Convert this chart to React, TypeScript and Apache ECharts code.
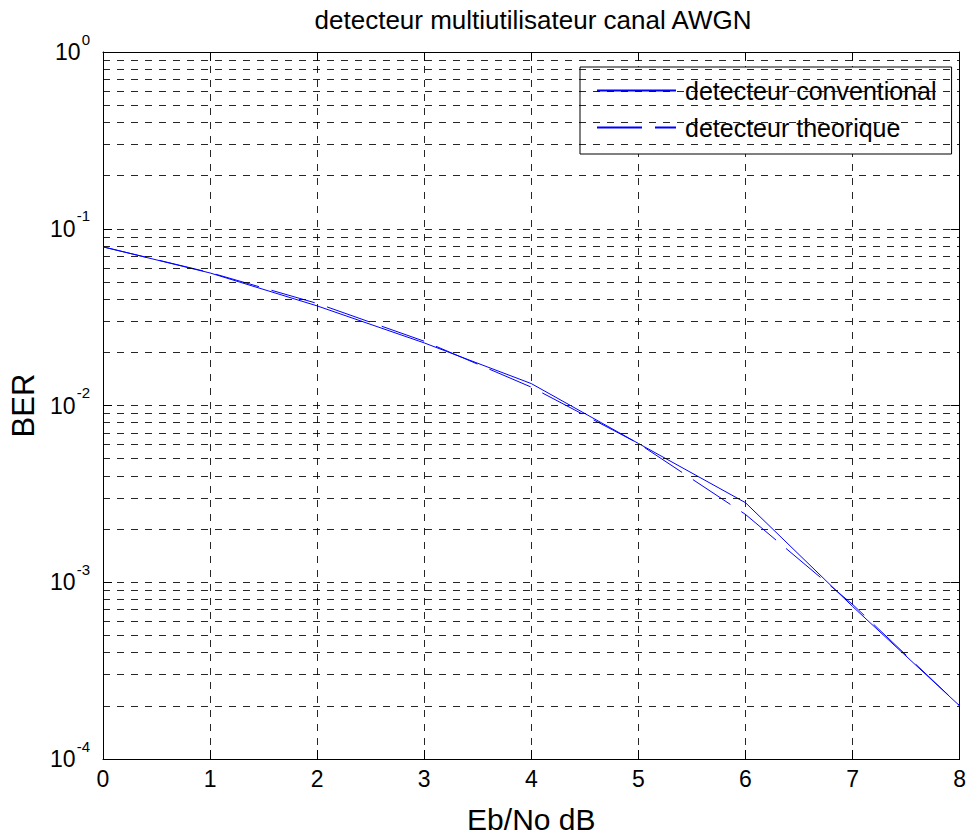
import React, { useEffect, useRef } from "react";
import * as echarts from "echarts";

const xValues = [0, 1, 2, 3, 4, 5, 6, 7, 8];
const conventional = [0.079, 0.0562, 0.0366, 0.0226, 0.0133, 0.0061, 0.00282, 0.00073, 0.0002];
const theorique = [0.079, 0.0565, 0.0378, 0.0231, 0.0127, 0.0061, 0.00242, 0.00075, 0.0002];
const decadeExponents = [-4, -3, -2, -1];
const minorMultipliers = [2, 3, 4, 5, 6, 7, 8, 9];
const seriesNames = ["detecteur conventional", "detecteur theorique"];
const titleText = "detecteur multiutilisateur canal AWGN";
const xName = "Eb/No dB";
const yName = "BER";

const FONT = "Liberation Sans, Arial, Helvetica, sans-serif";
const GRID_DASH = [7, 7];

export default function App() {
  const ref = useRef<HTMLDivElement>(null);
  useEffect(() => {
    document.body.style.margin = "0";
    if (!ref.current) return;
    const chart = echarts.init(ref.current, undefined, { renderer: "svg" });
    const minorLines: { yAxis: number }[] = [];
    decadeExponents.forEach((e) =>
      minorMultipliers.forEach((m) => minorLines.push({ yAxis: m * Math.pow(10, e) }))
    );
    const gridLineStyle = { color: "#000", width: 1, type: GRID_DASH, opacity: 0.85 };
    chart.setOption({
      animation: false,
      backgroundColor: "#fff",
      textStyle: { fontFamily: FONT },
      title: {
        text: titleText,
        left: 533,
        top: 7,
        textAlign: "center",
        padding: 0,
        textStyle: { fontSize: 26, fontWeight: "normal", color: "#000", fontFamily: FONT },
      },
      legend: {
        data: seriesNames,
        orient: "vertical",
        left: 580,
        top: 67,
        padding: [11, 15, 14, 16],
        itemGap: 12,
        itemWidth: 79,
        itemHeight: 25,
        backgroundColor: "#fff",
        borderColor: "#000",
        borderWidth: 1,
        borderRadius: 0,
        itemStyle: { opacity: 0 },
        textStyle: { fontSize: 25, color: "#000", fontFamily: FONT, padding: [0, 0, 0, 4] },
        selectedMode: false,
      },
      grid: { left: 103, top: 52, right: 8, bottom: 79, containLabel: false },
      xAxis: [
        {
          type: "value",
          min: 0,
          max: 8,
          interval: 1,
          name: xName,
          nameLocation: "middle",
          nameGap: 45,
          nameTextStyle: { fontSize: 30, color: "#000", fontFamily: FONT },
          axisLine: { show: true, onZero: false, lineStyle: { color: "#000", width: 1 } },
          axisTick: { show: true, inside: true, length: 9, lineStyle: { color: "#000" } },
          axisLabel: { fontSize: 23, color: "#000", margin: 8, fontFamily: FONT },
          splitLine: { show: true, lineStyle: gridLineStyle },
        },
        {
          type: "value",
          position: "top",
          min: 0,
          max: 8,
          interval: 1,
          axisLine: { show: true, onZero: false, lineStyle: { color: "#000", width: 1 } },
          axisTick: { show: true, inside: true, length: 9, lineStyle: { color: "#000" } },
          axisLabel: { show: false },
          splitLine: { show: false },
        },
      ],
      yAxis: [
        {
          type: "log",
          logBase: 10,
          min: 0.0001,
          max: 1,
          name: yName,
          nameLocation: "middle",
          nameGap: 56,
          nameRotate: 90,
          nameTextStyle: { fontSize: 31, color: "#000", fontFamily: FONT },
          axisLine: { show: true, onZero: false, lineStyle: { color: "#000", width: 1 } },
          axisTick: { show: true, inside: true, length: 9, lineStyle: { color: "#000" } },
          axisLabel: {
            margin: 13,
            color: "#000",
            fontFamily: FONT,
            formatter: (v: number) => `{b|10}{s|${Math.round(Math.log10(v))}}`,
            rich: {
              b: { fontSize: 23, color: "#000", fontFamily: FONT },
              s: { fontSize: 15, color: "#000", fontFamily: FONT, padding: [0, 0, 26, 1] },
            },
          },
          splitLine: { show: true, lineStyle: gridLineStyle },
        },
        {
          type: "log",
          logBase: 10,
          min: 0.0001,
          max: 1,
          position: "right",
          axisLine: { show: true, onZero: false, lineStyle: { color: "#000", width: 1 } },
          axisTick: { show: true, inside: true, length: 9, lineStyle: { color: "#000" } },
          axisLabel: { show: false },
          splitLine: { show: false },
        },
      ],
      series: [
        {
          name: "minorGrid",
          type: "line",
          data: [],
          z: 1,
          silent: true,
          markLine: {
            silent: true,
            precision: 10,
            symbol: ["none", "none"],
            label: { show: false },
            lineStyle: gridLineStyle,
            emphasis: { disabled: true },
            data: minorLines,
          },
        },
        {
          name: seriesNames[0],
          type: "line",
          z: 3,
          symbol: "none",
          showSymbol: false,
          data: xValues.map((x, i) => [x, conventional[i]]),
          lineStyle: { color: "#0000ff", width: 1, type: "solid" },
          itemStyle: { color: "#0000ff" },
        },
        {
          name: seriesNames[1],
          type: "line",
          z: 3,
          symbol: "none",
          showSymbol: false,
          data: xValues.map((x, i) => [x, theorique[i]]),
          lineStyle: { color: "#0000ff", width: 1, type: [45, 13] },
          itemStyle: { color: "#0000ff" },
        },
      ],
    });
    return () => chart.dispose();
  }, []);
  return <div ref={ref} style={{ width: 969, height: 839 }} />;
}
